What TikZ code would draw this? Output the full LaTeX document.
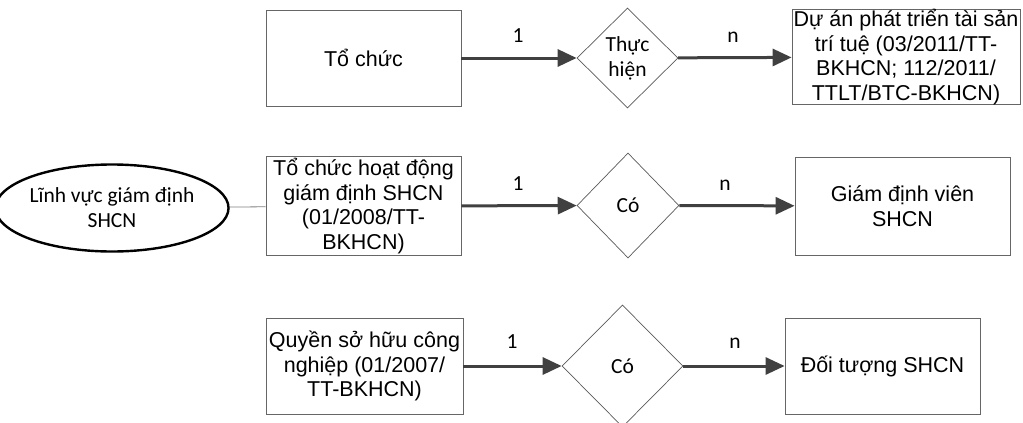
\documentclass[tikz,border=0pt]{standalone}
\usepackage{fontspec}
\setmainfont{Liberation Sans}
\newfontfamily\carlito{Carlito}
\usetikzlibrary{
  arrows.meta,
  shapes.geometric,
  chains,
  scopes
}

\begin{document}
\begin{tikzpicture}[
      x=1pt,y=-1pt,
      entity/.style={
         rectangle,
         inner sep=0pt,
         draw=black!60,
         line width=0.8pt,
         align=center,
         font=\fontsize{21.5}{24.5}\selectfont
      },
      relation/.style={
         diamond,
         inner sep=0pt,
         draw=black!65,
         line width=0.7pt,
         align=center,
         font=\carlito\fontsize{21.5}{25}\selectfont
      },
      attribute/.style={
         ellipse,
         inner sep=0pt,
         draw=black,
         line width=2.4pt,
         align=center,
         font=\carlito\fontsize{21.5}{25}\selectfont
      },
      card/.style={anchor=base,font=\carlito\fontsize{21.5}{25}\selectfont},
      every join/.style={line width=3pt,draw=black!75},
      tip/.style={-{Triangle[length=19pt,width=17pt]}},
      plain/.style={line width=0.8pt,draw=black!50}
    ]
    \useasboundingbox (0,0) rectangle (1023,423);
    % row 1
    \node (n11) [entity, minimum width=195, minimum height=96] at (363.5,58) {Tổ chức};
    \node (n12) [relation, minimum width=101, minimum height=100] at (627.5,58) {Thực\\hiện};
    \node (n13) [entity, minimum width=228, minimum height=94] at (906,57)
       {Dự án phát triển tài sản\\trí tuệ (03/2011/TT-\\BKHCN; 112/2011/\\TTLT/BTC-BKHCN)};
    \node (c11) [card] at (518,42) {1};
    \node (c12) [card] at (733,42) {n};
    % row 2
    \node (n20) [attribute, minimum width=203, minimum height=87] at (112,208)
       {Lĩnh vực giám định\\SHCN};
    \node (n21) [entity, minimum width=195, minimum height=99] at (363.5,206) 
       {Tổ chức hoạt động\\giám định SHCN\\(01/2008/TT-\\BKHCN)};
    \node (n22) [relation, minimum width=102, minimum height=105] at (628,205.5) {Có};
    \node (n23) [entity, minimum width=215, minimum height=98] at (902.5,206) 
       {Giám định viên\\SHCN};
    \node (c21) [card] at (518,190) {1};
    \node (c22) [card] at (725,190) {n};
    % row 3
    \node (n31) [entity, minimum width=197, minimum height=96] at (364.5,366)
       {Quyền sở hữu công\\nghiệp (01/2007/\\TT-BKHCN)};
    \node (n32) [relation, minimum width=121, minimum height=122] at (622.5,366) {Có};
    \node (n33) [entity, minimum width=195, minimum height=96] at (882.5,366) {Đối tượng SHCN};
    \node (c31) [card] at (512,348) {1};
    \node (c32) [card] at (735,348) {n};
  { [start chain]
       \chainin (n11);
       \chainin (n12)    [join=by tip];
       \chainin (n13)    [join=by tip];
  }
  { [start chain]
       \chainin (n20);
       \chainin (n21)    [join=by plain];
       \chainin (n22)    [join=by tip];
       \chainin (n23)    [join=by tip];
  }
  { [start chain]
       \chainin (n31);
       \chainin (n32)    [join=by tip];
       \chainin (n33)    [join=by tip];
  }
\end{tikzpicture}
\end{document}
